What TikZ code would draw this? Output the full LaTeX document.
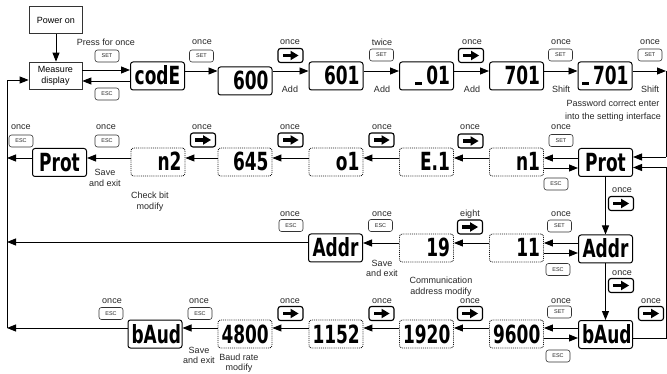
\documentclass[tikz,border=0pt]{standalone}
\usepackage{fontspec}
\setmainfont{Liberation Sans}
\newfontfamily\lcdfont{DejaVu Sans}
\usepackage{graphicx}
\usetikzlibrary{arrows.meta}
\newcommand{\lcd}[1]{{\lcdfont\bfseries\fontsize{25pt}{25pt}\selectfont\scalebox{0.68}[1]{#1}}}
\newcommand{\lcdbar}{\rule{10pt}{2.8pt}\hspace{6pt}}
\tikzset{
  arr/.style={line width=0.9pt, -{Triangle[length=9pt,width=7pt]}},
  ln/.style={line width=0.9pt},
  lbl/.style={inner sep=0pt, align=center, text=black!85, font=\fontsize{9pt}{10.8pt}\selectfont},
  btn/.style={draw=black!80, line width=0.6pt, rounded corners=2.5pt, minimum width=24pt, minimum height=12pt, inner sep=0pt, text=black!85, font=\fontsize{5.5pt}{6pt}\selectfont},
  abtn/.style={draw, line width=1.1pt, rounded corners=2.5pt, minimum width=25pt, minimum height=14pt, inner sep=0pt,
    path picture={
      \fill[black, sharp corners] ([xshift=-8pt,yshift=-1.8pt]path picture bounding box.center) rectangle ([xshift=1pt,yshift=1.8pt]path picture bounding box.center);
      \fill[black, sharp corners] ([yshift=4.8pt]path picture bounding box.center) -- ([xshift=8pt]path picture bounding box.center) -- ([yshift=-4.8pt]path picture bounding box.center) -- cycle;
    }},
  sysbox/.style={draw=black!80, line width=0.7pt, minimum width=53pt, minimum height=27pt, inner sep=0pt, align=center, font=\fontsize{9pt}{11pt}\selectfont},
  lcdr/.style={draw, line width=1pt, rounded corners=2.5pt, minimum height=28pt, text width=47pt, align=right, inner xsep=3.5pt, inner ysep=0pt, text height=18pt, text depth=0pt},
  lcdc/.style={lcdr, align=center},
  lcdd/.style={lcdr, draw=black!90, line width=0.85pt, dash pattern=on 0.9pt off 1pt}
}
\begin{document}
\begin{tikzpicture}[x=1pt,y=-1pt]
\useasboundingbox (0,0) rectangle (667,374);

% ---------- row 1 ----------
\node[sysbox] (power) at (56,20) {Power on};
\node[sysbox] (measure) at (55.5,75.5) {Measure\\display};
\node[lcdc] (codE) at (157.5,76) {\lcd{codE}};
\node[lcdr] (v600) at (245,81) {\lcd{600}};
\node[lcdr] (v601) at (336,76) {\lcd{601}};
\node[lcdr] (v01) at (426.5,76) {\lcd{\lcdbar01}};
\node[lcdr] (v701) at (516.5,76) {\lcd{701}};
\node[lcdr] (v701b) at (605,76) {\lcd{\lcdbar701}};

% ---------- row 2 ----------
\node[lcdc] (protL) at (59.5,162.5) {\lcd{Prot}};
\node[lcdd] (n2) at (158,162) {\lcd{n2}};
\node[lcdd] (v645) at (245,162) {\lcd{645}};
\node[lcdd] (o1) at (336,162) {\lcd{o1}};
\node[lcdd] (E1) at (426.5,162) {\lcd{E.1}};
\node[lcdd] (n1) at (516.5,162) {\lcd{n1}};
\node[lcdc] (protR) at (605.5,162.5) {\lcd{Prot}};

% ---------- row 3 ----------
\node[lcdc] (addrL) at (335.5,248) {\lcd{Addr}};
\node[lcdd] (v19) at (426.5,248) {\lcd{19}};
\node[lcdd] (v11) at (516.5,248) {\lcd{11}};
\node[lcdc] (addrR) at (605.5,249) {\lcd{Addr}};

% ---------- row 4 ----------
\node[lcdc] (baudL) at (155,334) {\lcd{bAud}};
\node[lcdd] (v4800) at (245,334) {\lcd{4800}};
\node[lcdd] (v1152) at (336,334) {\lcd{1152}};
\node[lcdd] (v1920) at (426.5,334) {\lcd{1920}};
\node[lcdd] (v9600) at (516.5,334) {\lcd{9600}};
\node[lcdc] (baudR) at (605.5,334.5) {\lcd{bAud}};

% ---------- labels row 1 ----------
\node[lbl] (t1) at (106,42) {Press for once};
\node[btn] (b1) at (107,56) {SET};
\node[btn] (b2) at (107,94) {ESC};
\node[lbl] (t2) at (202,42) {once};
\node[btn] (b3) at (201.5,56) {SET};
\node[lbl] (t3) at (290,42) {once};
\node[abtn] (b4) at (290.5,55.5) {};
\node[lbl] (t4) at (290,89) {Add};
\node[lbl] (t5) at (382,42) {twice};
\node[btn] (b5) at (381.5,55) {SET};
\node[lbl] (t6) at (382,89) {Add};
\node[lbl] (t7) at (472,42) {once};
\node[abtn] (b6) at (471,55.5) {};
\node[lbl] (t8) at (472,89) {Add};
\node[lbl] (t9) at (561,42) {once};
\node[btn] (b7) at (560.5,55) {SET};
\node[lbl] (t10) at (561,89) {Shift};
\node[lbl] (t11) at (650,42) {once};
\node[btn] (b8) at (650,55) {SET};
\node[lbl] (t12) at (650,89) {Shift};
\node[lbl, font=\fontsize{9pt}{12.5pt}\selectfont] (t13) at (613,110.5) {Password correct enter\\into the setting interface};

% ---------- labels row 2 ----------
\node[lbl] (t14) at (21,127) {once};
\node[btn] (b9) at (21,141) {ESC};
\node[lbl] (t15) at (106,127) {once};
\node[btn] (b10) at (107,141) {ESC};
\node[lbl] (t16) at (105,178) {Save\\and exit};
\node[lbl] (t17) at (150,202) {Check bit\\modify};
\node[lbl] (t18) at (202,127) {once};
\node[abtn] (b11) at (203,140) {};
\node[lbl] (t19) at (290,127) {once};
\node[abtn] (b12) at (290.5,140) {};
\node[lbl] (t20) at (382,127) {once};
\node[abtn] (b13) at (381.5,140) {};
\node[lbl] (t21) at (470,127) {once};
\node[abtn] (b14) at (470.5,141) {};
\node[lbl] (t22) at (561,127) {once};
\node[btn] (b15) at (561,140.5) {SET};
\node[btn] (b16) at (556,184) {ESC};
\node[lbl] (t23) at (622,190) {once};
\node[abtn] (b17) at (621,203.5) {};

% ---------- labels row 3 ----------
\node[lbl] (t24) at (290,214) {once};
\node[btn] (b18) at (291,225.5) {ESC};
\node[lbl] (t25) at (382,214) {once};
\node[btn] (b19) at (380.5,225.5) {ESC};
\node[lbl] (t26) at (382,268.5) {Save\\and exit};
\node[lbl] (t27) at (441,286.5) {Communication\\address modify};
\node[lbl] (t28) at (470,214) {eight};
\node[abtn] (b20) at (470,227) {};
\node[lbl] (t29) at (561,214) {once};
\node[btn] (b21) at (559.5,226) {SET};
\node[btn] (b22) at (558,269.5) {ESC};
\node[lbl] (t30) at (622,273) {once};
\node[abtn] (b23) at (621,285.5) {};

% ---------- labels row 4 ----------
\node[lbl] (t31) at (112,301) {once};
\node[btn] (b24) at (111,313.5) {ESC};
\node[lbl] (t32) at (199,301) {once};
\node[btn] (b25) at (200,313.5) {ESC};
\node[lbl] (t33) at (199,355.5) {Save\\and exit};
\node[lbl, font=\fontsize{9pt}{10.3pt}\selectfont] (t34) at (239,363.5) {Baud rate\\modify};
\node[lbl] (t35) at (290,301) {once};
\node[abtn] (b26) at (290.5,313.5) {};
\node[lbl] (t36) at (382,301) {once};
\node[abtn] (b27) at (381.5,313.5) {};
\node[lbl] (t37) at (470,301) {once};
\node[abtn] (b28) at (470,313.5) {};
\node[lbl] (t38) at (561,301) {once};
\node[btn] (b29) at (559.5,312) {SET};
\node[btn] (b30) at (558,356) {ESC};
\node[lbl] (t39) at (651,301) {once};
\node[abtn] (b31) at (651,313.5) {};

% ---------- helper coordinates ----------
\coordinate (Ltop) at (7,80);
\coordinate (Lbot) at (7,328);
\coordinate (Rtop) at (666,71);
\coordinate (Rin1) at (666,157);
\coordinate (Rin2) at (666,167.5);

% ---------- connectors row 1 ----------
\draw[arr] (power.south) -- (power.south |- measure.north);
\draw[arr] ([yshift=5.5pt]measure.east) -- ([yshift=5.5pt]measure.east -| codE.west);
\draw[arr] ([yshift=-5pt]codE.west) -- ([yshift=-5pt]codE.west -| measure.east);
\draw[arr] ([yshift=5pt]codE.east) -- ([yshift=5pt]codE.east -| v600.west);
\draw[arr] ([yshift=5pt]v601.west -| v600.east) -- ([yshift=5pt]v601.west);
\draw[arr] ([yshift=5pt]v601.east) -- ([yshift=5pt]v601.east -| v01.west);
\draw[arr] ([yshift=5pt]v01.east) -- ([yshift=5pt]v01.east -| v701.west);
\draw[arr] ([yshift=5pt]v701.east) -- ([yshift=5pt]v701.east -| v701b.west);
\draw[arr] ([yshift=5pt]v701b.east) -- ([yshift=5pt]v701b.east -| Rtop);
\draw[ln] (Rtop) -- (Rin1);
\draw[arr] (Rin1) -- (Rin1 -| protR.east);
\draw[arr] ([yshift=-3.5pt]baudR.east) -| (Rin2) -- (Rin2 -| protR.east);

% ---------- connectors row 2 ----------
\draw[arr] ([yshift=4.5pt]protR.west) -- ([yshift=4.5pt]protR.west -| n1.east);
\draw[arr] ([yshift=-6pt]n1.east) -- ([yshift=-6pt]n1.east -| protR.west);
\draw[arr] ([yshift=4pt]n1.west) -- ([yshift=4pt]n1.west -| E1.east);
\draw[arr] ([yshift=4pt]E1.west) -- ([yshift=4pt]E1.west -| o1.east);
\draw[arr] ([yshift=4pt]o1.west) -- ([yshift=4pt]o1.west -| v645.east);
\draw[arr] ([yshift=4pt]v645.west) -- ([yshift=4pt]v645.west -| n2.east);
\draw[arr] ([yshift=4pt]n2.west) -- ([yshift=4pt]n2.west -| protL.east);
\draw[arr] ([yshift=4.5pt]protL.west) -- ([yshift=4.5pt]protL.west -| Ltop);
\draw[arr] (protR.south) -- (protR.south |- addrR.north);

% ---------- connectors row 3 ----------
\draw[arr] ([yshift=6pt]addrR.west) -- ([yshift=6pt]addrR.west -| v11.east);
\draw[arr] ([yshift=-5pt]v11.east) -- ([yshift=-5pt]v11.east -| addrR.west);
\draw[arr] ([yshift=5pt]v11.west) -- ([yshift=5pt]v11.west -| v19.east);
\draw[arr] ([yshift=5pt]v19.west) -- ([yshift=5pt]v19.west -| addrL.east);
\draw[arr] ([yshift=6pt]addrL.west) -- ([yshift=6pt]addrL.west -| Ltop);
\draw[arr] (addrR.south) -- (addrR.south |- baudR.north);

% ---------- connectors row 4 ----------
\draw[arr] ([yshift=6.5pt]baudR.west) -- ([yshift=6.5pt]baudR.west -| v9600.east);
\draw[arr] ([yshift=-4pt]v9600.east) -- ([yshift=-4pt]v9600.east -| baudR.west);
\draw[arr] ([yshift=6pt]v9600.west) -- ([yshift=6pt]v9600.west -| v1920.east);
\draw[arr] ([yshift=6pt]v1920.west) -- ([yshift=6pt]v1920.west -| v1152.east);
\draw[arr] ([yshift=6pt]v1152.west) -- ([yshift=6pt]v1152.west -| v4800.east);
\draw[arr] ([yshift=6pt]v4800.west) -- ([yshift=6pt]v4800.west -| baudL.east);
\draw[arr] ([yshift=6pt]baudL.west) -- ([yshift=6pt]baudL.west -| Lbot);

% ---------- left return line ----------
\draw[ln] (Lbot) -- (Ltop);
\draw[arr] (Ltop) -- (Ltop -| measure.west);
\end{tikzpicture}
\end{document}
